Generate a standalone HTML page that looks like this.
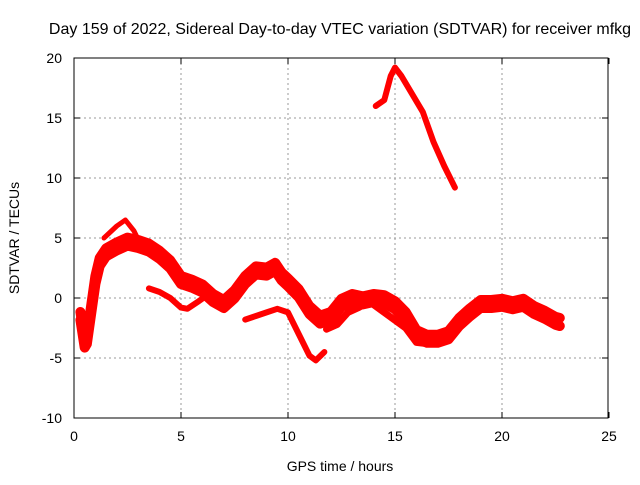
<!DOCTYPE html>
<html><head><meta charset="utf-8"><style>
body{margin:0;background:#fff}
svg text{font-family:"Liberation Sans",sans-serif;font-size:14px;fill:#000}
</style></head><body>
<svg id="chart" width="640" height="480" xmlns="http://www.w3.org/2000/svg">
<text x="340" y="34" text-anchor="middle" style="font-size:16px">Day 159 of 2022, Sidereal Day-to-day VTEC variation (SDTVAR) for receiver mfkg</text>
<g id="grid"></g><g id="series"></g><g id="axes"></g>
<text x="340" y="471" text-anchor="middle">GPS time / hours</text>
<text transform="translate(19,238) rotate(-90)" text-anchor="middle">SDTVAR / TECUs</text>
</svg>
<script>
const xTicks=[0,5,10,15,20,25];
const yTicks=[-10,-5,0,5,10,15,20];
const mainH=[0.3,0.5,0.6,0.8,1.0,1.2,1.5,2,2.5,3,3.5,4,4.5,5,5.5,6,6.5,7,7.5,8,8.5,9,9.4,9.7,10,10.5,11,11.5,12,12.5,13,13.5,14,14.5,15,15.5,16,16.5,17,17.5,18,18.5,19,19.5,20,20.5,21,21.5,22,22.5,22.7];
const mainV=[-1.5,-3.8,-3.5,-1,1.5,3,3.8,4.3,4.7,4.5,4.2,3.6,2.8,1.5,1.2,0.8,0,-0.5,0.3,1.5,2.3,2.2,2.6,1.8,1.3,0.4,-1,-1.8,-1.5,-0.4,0,-0.2,0,-0.1,-0.6,-1.5,-3,-3.4,-3.4,-3.1,-2,-1.2,-0.5,-0.5,-0.4,-0.6,-0.4,-1,-1.4,-1.9,-2];
const lowH=[11.8,12.3,12.8,13.3,13.8,15.5,16,16.5,17,17.5,18,18.5];
const lowV=[-2.6,-2.2,-1.2,-0.8,-0.3,-2.5,-3.7,-3.8,-3.6,-2.8,-2,-1.5];
const spikeH=[1.4,2,2.4,2.8,3.1];
const spikeV=[5,6,6.5,5.6,4.5];
const dipH=[3.5,4,4.5,5,5.3,5.8,6.2];
const dipV=[0.8,0.5,0,-0.8,-0.9,-0.3,0.2];
const dropH=[8,8.5,9,9.5,10,10.5,11,11.3,11.7];
const dropV=[-1.8,-1.5,-1.2,-0.9,-1.2,-3,-4.8,-5.2,-4.5];
const peakH=[14.1,14.5,14.8,15,15.3,15.8,16.3,16.8,17.3,17.8];
const peakV=[16,16.5,18.5,19.2,18.5,17,15.5,13,11,9.2];
const NS="http://www.w3.org/2000/svg";
const X=h=>74+h*21.4, Y=v=>298-v*12;
const grid=document.getElementById('grid'),axes=document.getElementById('axes'),ser=document.getElementById('series');
function el(t,a,p){const e=document.createElementNS(NS,t);for(const k in a)e.setAttribute(k,a[k]);p.appendChild(e);return e;}
xTicks.forEach(t=>{
 if(t>0&&t<25){const g=el('line',{x1:X(t),x2:X(t),y1:58,y2:418,stroke:'#999','stroke-dasharray':'2,3'},grid);
 
 }
 const l=el('text',{x:X(t),y:441,'text-anchor':'middle'},axes);l.textContent=t;
 
 
 el('line',{x1:X(t),x2:X(t),y1:418,y2:412,stroke:'#000'},axes);
 el('line',{x1:X(t),x2:X(t),y1:58,y2:64,stroke:'#000'},axes);
});
yTicks.forEach(t=>{
 if(t>-10&&t<20){const g=el('line',{x1:74,x2:608,y1:Y(t),y2:Y(t),stroke:'#999','stroke-dasharray':'2,3'},grid);
 
 }
 const l=el('text',{x:62,y:Y(t)+5,'text-anchor':'end'},axes);l.textContent=t;
 
 
 el('line',{x1:74,x2:80,y1:Y(t),y2:Y(t),stroke:'#000'},axes);
 el('line',{x1:608,x2:602,y1:Y(t),y2:Y(t),stroke:'#000'},axes);
});
const fr=el('rect',{x:74,y:58,width:534,height:360,fill:'none',stroke:'#000'},axes);


function draw(H,V,w,name,off){
 const pts=H.map((h,i)=>X(h)+','+(Y(V[i])+(off||0))).join(' ');
 const p=el('polyline',{points:pts,fill:'none',stroke:'#f00','stroke-width':w,'stroke-linejoin':'round','stroke-linecap':'round'},ser);
 
 
}
draw(mainH,mainV,10,'series-main',-4);
draw(mainH,mainV,10,'series-main-b',4);
draw(lowH,lowV,7,'series-low');
draw(spikeH,spikeV,5,'series-spike');
draw(dipH,dipV,6,'series-dip');
draw(dropH,dropV,6,'series-drop');
draw(peakH,peakV,6,'series-peak');
</script>
</body></html>
